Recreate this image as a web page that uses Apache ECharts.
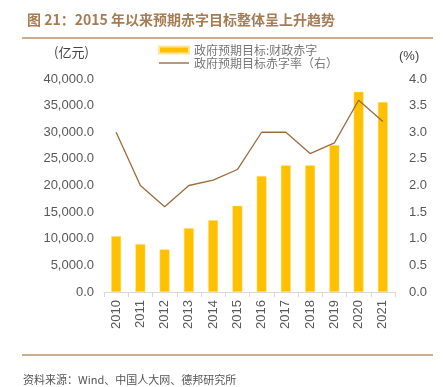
<!DOCTYPE html>
<html><head><meta charset="utf-8">
<script src="https://cdn.jsdelivr.net/npm/echarts@6/dist/echarts.min.js"></script>
<style>html,body{margin:0;padding:0;background:#fff}#c{width:443px;height:387px}</style>
</head><body><div id="c"></div>
<script>
const categories = ['2010','2011','2012','2013','2014','2015','2016','2017','2018','2019','2020','2021'];
const deficitValues = [10500, 9000, 8000, 12000, 13500, 16200, 21800, 23800, 23800, 27600, 37600, 35700];
const deficitRate = [3.0, 2.0, 1.6, 2.0, 2.1, 2.3, 3.0, 3.0, 2.6, 2.8, 3.6, 3.2];
const leftTicks = {min: 0, max: 40000, interval: 5000};
const rightTicks = {min: 0, max: 4, interval: 0.5};

const chart = echarts.init(document.getElementById('c'));
const font = '"Noto Sans CJK SC", "Liberation Sans", sans-serif';
const numFont = '"Liberation Sans", Arial, sans-serif';
chart.setOption({
  animation: false,
  textStyle: {fontFamily: font},
  title: {
    text: '图 21：2015 年以来预期赤字目标整体呈上升趋势',
    left: 22, top: 8,
    textStyle: {color: '#A67C52', fontSize: 14, fontWeight: 'bold', fontFamily: font}
  },
  graphic: [
    {type: 'line', shape: {x1: 22, y1: 38, x2: 433, y2: 38}, style: {stroke: '#B9916A', lineWidth: 1.5}},
    {type: 'line', shape: {x1: 22, y1: 355, x2: 433, y2: 355}, style: {stroke: '#B9916A', lineWidth: 1.5}},
    {type: 'text', left: 23, top: 374, style: {text: '资料来源：Wind、中国人大网、德邦研究所', fill: '#555', fontSize: 11, fontFamily: font}},
    {type: 'text', left: 54, top: 46, style: {text: '(亿元)', fill: '#444', fontSize: 13, fontFamily: font}},
    {type: 'text', left: 399, top: 50, style: {text: '(%)', fill: '#444', fontSize: 13, fontFamily: numFont}}
  ],
  legend: {
    orient: 'vertical', left: 153, top: 39, itemGap: 1,
    itemWidth: 30, itemHeight: 7,
    textStyle: {color: '#777', fontSize: 12, fontFamily: font},
    data: [
      {name: '政府预期目标:财政赤字', icon: 'rect'},
      {name: '政府预期目标赤字率（右）', icon: 'path://M0,0 L30,0 L30,1.4 L0,1.4 Z', itemStyle: {color: '#9C6B3E'}}
    ]
  },
  grid: {left: 104, right: 48, top: 79, bottom: 95},
  xAxis: {
    type: 'category', data: categories,
    axisLine: {lineStyle: {color: '#D9D9D9'}},
    axisTick: {show: true, lineStyle: {color: '#D9D9D9'}},
    axisLabel: {rotate: 90, color: '#595959', fontSize: 13, margin: 8, fontFamily: numFont}
  },
  yAxis: [
    {type: 'value', min: leftTicks.min, max: leftTicks.max, interval: leftTicks.interval,
     splitLine: {show: false}, axisLine: {show: false}, axisTick: {show: false},
     axisLabel: {color: '#595959', fontSize: 13, margin: 10, fontFamily: numFont, formatter: v => v.toLocaleString('en-US', {minimumFractionDigits: 1, maximumFractionDigits: 1})}},
    {type: 'value', min: rightTicks.min, max: rightTicks.max, interval: rightTicks.interval,
     splitLine: {show: false}, axisLine: {show: false}, axisTick: {show: false},
     axisLabel: {color: '#595959', fontSize: 13, margin: 14, fontFamily: numFont, formatter: v => v.toFixed(1)}}
  ],
  series: [
    {name: '政府预期目标:财政赤字', type: 'bar', data: deficitValues, barWidth: 10,
     itemStyle: {color: '#FFC000', borderColor: '#FFE699', borderWidth: 0.5}},
    {name: '政府预期目标赤字率（右）', type: 'line', yAxisIndex: 1, data: deficitRate,
     symbol: 'none', lineStyle: {color: '#9C6B3E', width: 1.3}, itemStyle: {color: '#9C6B3E'}}
  ]
});
</script></body></html>
